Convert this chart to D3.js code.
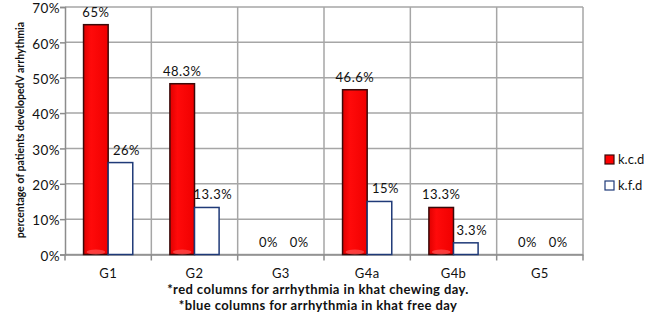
<!DOCTYPE html>
<html>
<head>
<meta charset="utf-8">
<script src="https://cdn.jsdelivr.net/npm/d3@7"></script>
<style>
  body { margin: 0; background: #fff; }
  text { font-family: Lato, "Open Sans", sans-serif; fill: #111; }
</style>
</head>
<body>
<div id="chart"></div>
<script>
// chart data
const groups = ["G1", "G2", "G3", "G4a", "G4b", "G5"];
const seriesNames = ["k.c.d", "k.f.d"];
const chewingDay = [65, 48.3, 0, 46.6, 13.3, 0];
const freeDay = [26, 13.3, 0, 15, 3.3, 0];
const chewingLabels = ["65%", "48.3%", "0%", "46.6%", "13.3%", "0%"];
const freeLabels = ["26%", "13.3%", "0%", "15%", "3.3%", "0%"];
const yTicks = [0, 10, 20, 30, 40, 50, 60, 70];
const notes = ["*red columns for arrhythmia in khat chewing day.", "*blue columns for arrhythmia in khat free day"];

const W = 648, H = 319;
const m = {top: 7, left: 65, right: 65, bottom: 64};
const w = 583 - m.left;
const h = 254.5 - m.top;

const svg = d3.select("#chart").append("svg")
    .attr("width", W)
    .attr("height", H);

// red bar gradient (excel style)
const defs = svg.append("defs");
const grad = defs.append("linearGradient").attr("id", "redg")
    .attr("x1", 0).attr("x2", 1).attr("y1", 0).attr("y2", 0);
grad.append("stop").attr("offset", "0%").attr("stop-color", "#e00000");
grad.append("stop").attr("offset", "30%").attr("stop-color", "#ff0a0a");
grad.append("stop").attr("offset", "100%").attr("stop-color", "#f00000");

const g = svg.append("g").attr("transform", "translate(" + m.left + "," + m.top + ")");

let x = d3.scaleBand().domain(groups).range([0, w]);
let xs = d3.scaleBand().domain(seriesNames).range([x.bandwidth()*0.215, x.bandwidth()*0.785]);
let y = d3.scaleLinear().domain([0, 70]).range([h, 0]);

// horizontal gridlines
g.append("g")
    .selectAll("line").data(yTicks).join("line")
    .attr("x1", 0).attr("x2", w)
    .attr("y1", d => y(d)).attr("y2", d => y(d))
    .attr("stroke", "#a6a6a6").attr("stroke-width", 1.5);

// vertical gridlines between groups
const bounds = d3.range(groups.length + 1).map(i => i * x.step());
g.append("g")
    .selectAll("line").data(bounds.slice(1)).join("line")
    .attr("x1", d => d).attr("x2", d => d)
    .attr("y1", 0).attr("y2", h)
    .attr("stroke", "#a6a6a6").attr("stroke-width", 1.5);

// y axis
const yAxis = d3.axisLeft(y).tickValues(yTicks).tickFormat(d => d + "%").tickSize(5);
const ya = g.append("g").call(yAxis);
ya.select(".domain").attr("stroke", "#8c8c8c").attr("stroke-width", 1.5);
ya.selectAll(".tick line").attr("stroke", "#8c8c8c").attr("stroke-width", 1.5);
ya.selectAll(".tick text").attr("font-size", 13.5).attr("x", -5).attr("dy", "0.42em")
    .attr("letter-spacing", 0.4).attr("fill", "#111");

// x axis
const xa = g.append("g").attr("transform", "translate(0," + h + ")")
    .call(d3.axisBottom(x).tickSize(0).tickPadding(14));
xa.select(".domain").attr("stroke", "#8c8c8c").attr("stroke-width", 1.5);
xa.selectAll(".tick text").attr("font-size", 13).attr("letter-spacing", 0.4).attr("fill", "#111");
xa.append("g").selectAll("line").data(bounds).join("line")
    .attr("x1", d => d).attr("x2", d => d)
    .attr("y1", 0).attr("y2", 6)
    .attr("stroke", "#8c8c8c").attr("stroke-width", 1.5);

// bars
const rows = groups.map((grp, i) => ({grp, red: chewingDay[i], blue: freeDay[i], rl: chewingLabels[i], bl: freeLabels[i]}));

g.selectAll(".red").data(rows).join("rect")
    .attr("class", "red")
    .attr("x", d => x(d.grp) + xs("k.c.d"))
    .attr("y", d => y(d.red))
    .attr("width", xs.bandwidth())
    .attr("height", d => h - y(d.red))
    .attr("fill", "url(#redg)")
    .attr("stroke", d => d.red > 0 ? "#3a0a0a" : "none")
    .attr("stroke-width", 1.5);

// faint highlight at the foot of red bars
g.selectAll(".shine").data(rows.filter(d => d.red > 0)).join("ellipse")
    .attr("cx", d => x(d.grp) + xs("k.c.d") + xs.bandwidth()/2)
    .attr("cy", h - 2.5)
    .attr("rx", xs.bandwidth()/2 - 3)
    .attr("ry", 2.5)
    .attr("fill", "#ff6a6a")
    .attr("opacity", 0.55);

g.selectAll(".blue").data(rows).join("rect")
    .attr("class", "blue")
    .attr("x", d => x(d.grp) + xs("k.f.d"))
    .attr("y", d => y(d.blue))
    .attr("width", xs.bandwidth())
    .attr("height", d => h - y(d.blue))
    .attr("fill", "#fff")
    .attr("stroke", d => d.blue > 0 ? "#1f3a78" : "none")
    .attr("stroke-width", 1.5);

// data labels
g.selectAll(".rl").data(rows).join("text")
    .attr("x", d => x(d.grp) + xs("k.c.d") + xs.bandwidth()/2)
    .attr("y", d => y(d.red) - 8)
    .attr("text-anchor", "middle")
    .attr("font-size", 13)
    .attr("letter-spacing", 0.5)
    .text(d => d.rl);

g.selectAll(".bl").data(rows).join("text")
    .attr("x", d => x(d.grp) + xs("k.f.d") + xs.bandwidth()/2 + 6)
    .attr("y", d => y(d.blue) - 8)
    .attr("text-anchor", "middle")
    .attr("font-size", 13)
    .attr("letter-spacing", 0.5)
    .text(d => d.bl);

// y axis title
svg.append("text")
    .attr("transform", "translate(24,130) rotate(-90)")
    .attr("text-anchor", "middle")
    .attr("font-size", 10.5)
    .attr("font-weight", "bold")
    .text("percentage of patients developedV arrhythmia");

// notes under the chart
svg.selectAll(".note").data(notes).join("text")
    .attr("x", 318)
    .attr("y", (d, i) => 294 + i * 16)
    .attr("text-anchor", "middle")
    .attr("font-size", 13)
    .attr("font-weight", "bold")
    .attr("letter-spacing", 0.4)
    .text(d => d);

// legend
const lg = svg.append("g").attr("transform", "translate(605,155)");
lg.selectAll("rect").data(seriesNames).join("rect")
    .attr("x", 0).attr("y", (d, i) => i * 26)
    .attr("width", 9).attr("height", 9)
    .attr("fill", (d, i) => i === 0 ? "#ff0000" : "#fff")
    .attr("stroke", (d, i) => i === 0 ? "#3a0a0a" : "#1f3a78")
    .attr("stroke-width", 1.2);
lg.selectAll("text").data(seriesNames).join("text")
    .attr("x", 13).attr("y", (d, i) => i * 26 + 9)
    .attr("font-size", 13)
    .text(d => d);
</script>
</body>
</html>
